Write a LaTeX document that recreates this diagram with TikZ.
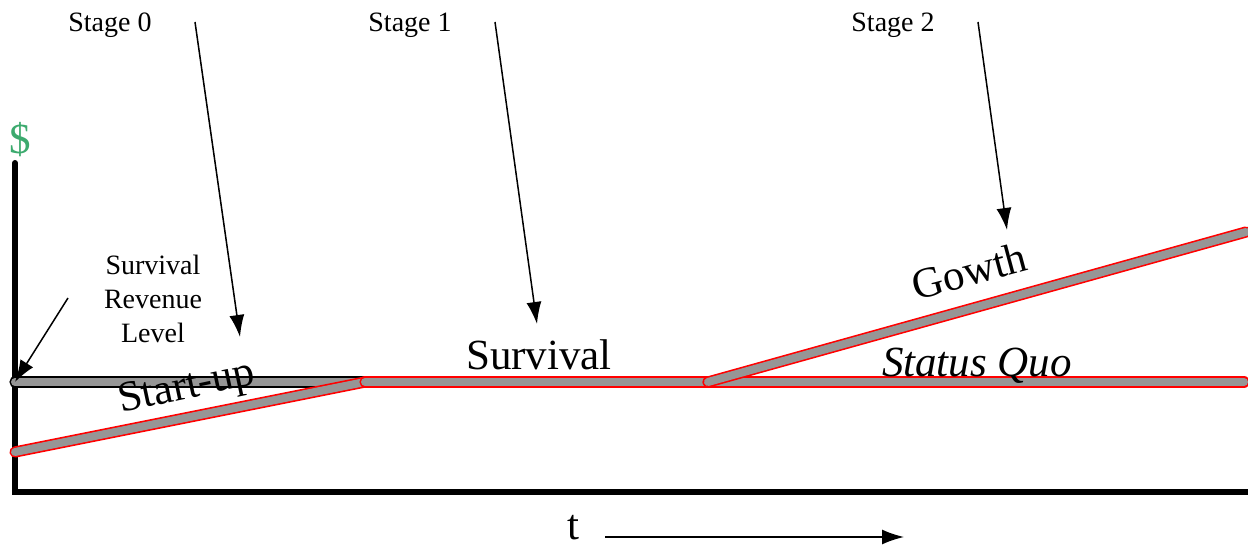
\documentclass[tikz,border=0pt]{standalone}
\usepackage{fontspec}
\setmainfont{Liberation Serif}
\usetikzlibrary{arrows.meta}
\definecolor{dollargreen}{RGB}{60,170,110}
\definecolor{bandgray}{RGB}{150,150,150}

\begin{document}
\begin{tikzpicture}[x=1pt,y=-1pt,>={Latex[length=22pt,width=15pt]}]
\tikzstyle{small label}=[font=\fontsize{28}{34}\selectfont,align=center,inner sep=0pt]
\tikzstyle{big label}=[font=\fontsize{43}{46}\selectfont,inner sep=0pt]
\tikzstyle{band}=[draw=red,line width=1.6pt,double=bandgray,double distance=8pt,line cap=round]
\tikzstyle{axis}=[line width=6pt,line cap=round]
\tikzstyle{pointer}=[->,line width=1.5pt]

\useasboundingbox (0,0) rectangle (1248,548);

% axes
\coordinate (top) at (15,163);
\coordinate (origin) at (15,492);
\coordinate (right) at (1248,492);
\draw[axis] (top) -- (origin) -- (right);
\node[big label,text=dollargreen] (dollar) at (20,140) {\$};

% revenue paths
\coordinate (level) at (15,382);
\coordinate (low) at (15,452);
\coordinate (s1) at (365,382);
\coordinate (s2) at (708,382);
\coordinate (quoend) at (1244,382);
\coordinate (growend) at (1246,232);
\draw[band,draw=black] (level) -- (s1);
\draw[band] (low) -- (s1);
\draw[band] (s1) -- (s2);
\draw[band] (s2) -- (quoend);
\draw[band] (s2) -- (growend);

\node[big label,rotate=12] (startup) at (187,389) {Start-up};
\node[big label] (survival) at (539,355) {Survival};
\node[big label,rotate=15] (growth) at (969,271) {Gowth};
\node[big label,font=\fontsize{43}{46}\selectfont\itshape] (quo) at (977,366) {Status Quo};

% stages
\node[small label] (stage0) at (110,25) {Stage 0};
\node[small label] (stage1) at (410,25) {Stage 1};
\node[small label] (stage2) at (893,25) {Stage 2};
\coordinate (p0a) at (195,22);  \coordinate (p0b) at (240,337);
\coordinate (p1a) at (495,22);  \coordinate (p1b) at (537,324);
\coordinate (p2a) at (978,22);  \coordinate (p2b) at (1007,230);
\draw[pointer] (p0a) -- (p0b);
\draw[pointer] (p1a) -- (p1b);
\draw[pointer] (p2a) -- (p2b);

\node[small label] (srl) at (153,299) {Survival\\Revenue\\Level};
\coordinate (srla) at (68,298);
\draw[pointer] (srla) -- (level);

% time
\node[big label] (t) at (573,528) {t};
\coordinate (ta) at (605,537);
\coordinate (tb) at (904,537);
\draw[pointer] (ta) -- (tb);
\end{tikzpicture}
\end{document}
